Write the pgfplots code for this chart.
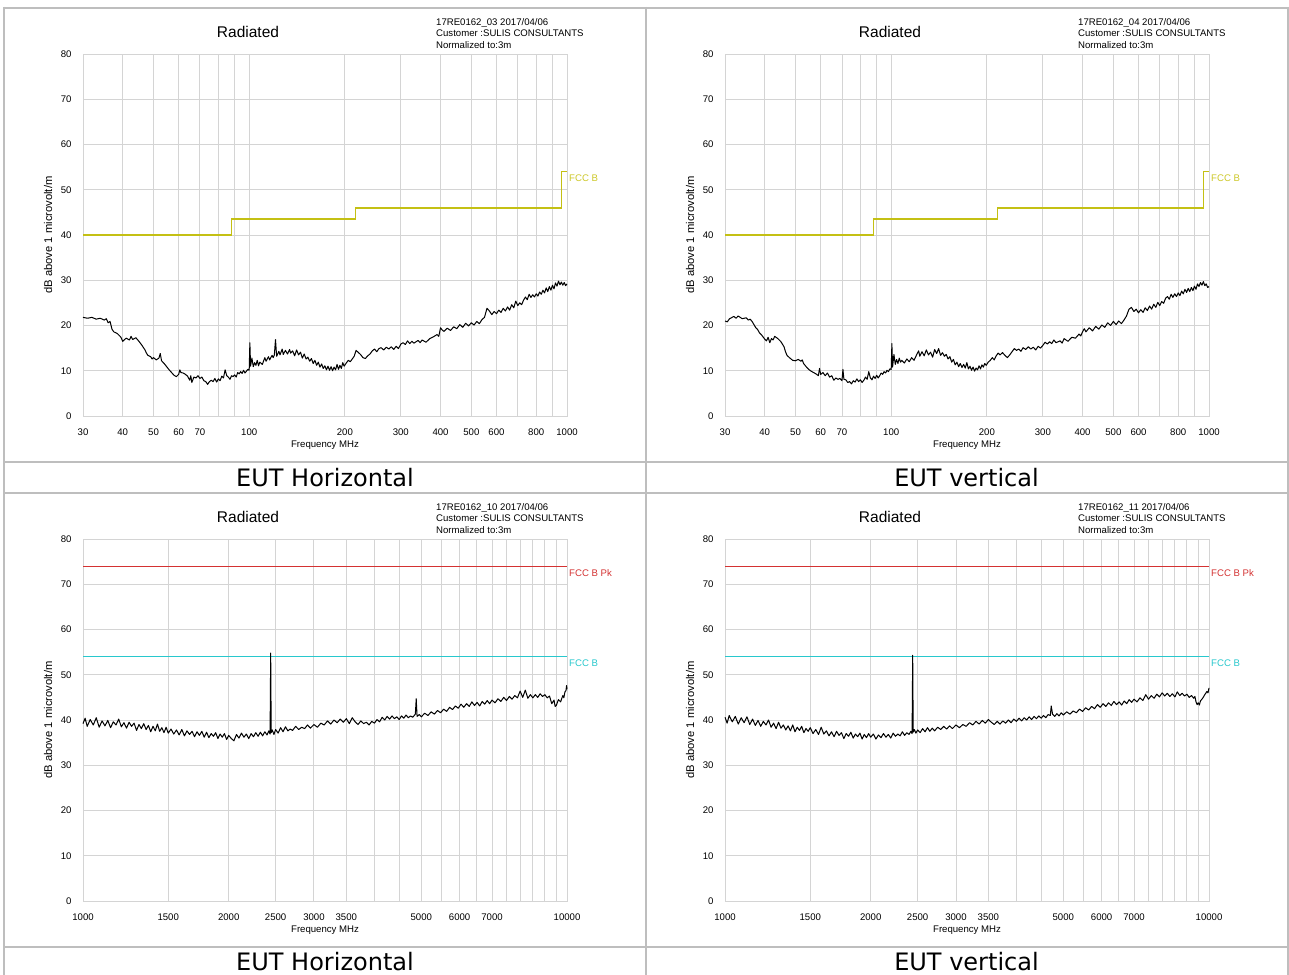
\documentclass[border=0pt]{standalone}
\usepackage{pgfplots}
\pgfplotsset{compat=1.18}
\usepackage{fontspec}
\setmainfont{Liberation Sans}
\newfontfamily\capfont{DejaVu Sans}
\definecolor{gridgray}{RGB}{212,212,212}
\definecolor{bordergray}{RGB}{190,190,190}
\definecolor{fccy}{RGB}{196,192,20}
\definecolor{fccyt}{RGB}{205,200,40}
\definecolor{fccr}{RGB}{212,50,50}
\definecolor{fccc}{RGB}{40,200,205}
\newcommand{\tkf}{\fontsize{9.6}{11}\selectfont}
\pgfplotsset{every axis/.append style={scale only axis, width=484pt, height=362pt, anchor=south west,
    xmode=log, ymin=0, ymax=80, ytick={0,10,20,30,40,50,60,70,80},
    yticklabels={0,10,20,30,40,50,60,70,80},
    xmajorgrids, ymajorgrids,
    major grid style={draw=gridgray, line width=0.9pt},
    axis line style={draw=gridgray, line width=0.9pt},
    major tick length=0pt, minor tick length=0pt,
    tick label style={font=\tkf},
    yticklabel style={xshift=-8pt},
    xticklabel style={yshift=-9pt},
    xlabel={Frequency MHz}, ylabel={dB above 1 microvolt/m},
    xlabel style={font=\tkf, at={(axis description cs:0.5,-0.0815)}, anchor=center},
    ylabel style={font=\fontsize{11.2}{13}\selectfont, at={(axis description cs:-0.0723,0.5)}, anchor=center},
    clip=false}}
\tikzset{
  trace/.style={black, line width=1pt, line join=round},
  limline/.style={line width=1.2pt, sharp plot},
  ylimline/.style={line width=1.7pt, sharp plot, line join=miter},
  limlab/.style={anchor=north west, inner sep=0pt, xshift=2pt, yshift=-3.2pt, font=\tkf}
}
\newcommand{\header}[3]{%
  \node[font=\fontsize{15.5}{17}\selectfont] at (#1+165,#2+942) {Radiated};
  \node[anchor=base west, font=\tkf, inner sep=0pt] at (#1+353,#2+948.6) {#3 2017/04/06};
  \node[anchor=base west, font=\tkf, inner sep=0pt] at (#1+353,#2+937.1) {Customer :SULIS CONSULTANTS};
  \node[anchor=base west, font=\tkf, inner sep=0pt] at (#1+353,#2+925.6) {Normalized to:3m};
}
\begin{document}
\begin{tikzpicture}
\begin{scope}[x=1pt,y=1pt]
\useasboundingbox (0,0) rectangle (1289,974);
\fill[white] (0,0) rectangle (1289,974);
\begin{scope}[draw=bordergray, line width=2pt]
\draw (4,966) -- (1287.5,966);
\draw (4,512) -- (1287.5,512);
\draw (4,481.3) -- (1287.5,481.3);
\draw (4,27.3) -- (1287.5,27.3);
\draw (4,967) -- (4,-10);
\draw (646,967) -- (646,-10);
\draw (1287.5,967) -- (1287.5,-10);
\end{scope}
\node[font=\capfont\fontsize{24}{28}\selectfont] at (325,496.5) {EUT Horizontal};
\node[font=\capfont\fontsize{24}{28}\selectfont] at (966.5,496.5) {EUT vertical};
\node[font=\capfont\fontsize{24}{28}\selectfont] at (325,12.5) {EUT Horizontal};
\node[font=\capfont\fontsize{24}{28}\selectfont] at (966.5,12.5) {EUT vertical};
\header{83}{0}{17RE0162\_03}
\header{725}{0}{17RE0162\_04}
\header{83}{-485}{17RE0162\_10}
\header{725}{-485}{17RE0162\_11}
\end{scope}

% ---------- top left ----------
\begin{axis}[at={(83pt,558pt)}, xmin=30, xmax=1000,
    xtick={30,40,50,60,70,80,90,100,200,300,400,500,600,700,800,900,1000},
    xticklabels={30,40,50,60,70,,,100,200,300,400,500,600,,800,,1000}]
\addplot[ylimline, draw=fccy] coordinates {(30,40)(88,40)(88,43.5)(216,43.5)(216,46)(960,46)(960,54)(1000,54)};
\node[limlab, text=fccyt] at (axis cs:1000,54) {FCC B};
\addplot[trace] coordinates {
(30,21.8)(31,21.6)(32,21.8)(33,21.4)(34,21.6)(35,21.2)(35.5,21.5)(36,20.6)(36.5,20.9)(37,19.2)(37.5,18.6)(38.5,18.2)(39.5,17.4)(40,16.5)(41,17.2)(42,16.8)(42.5,17.6)(43,16.9)(44,17.3)(45,16.5)(46,15.6)(47,14.6)(47.5,13.9)(48,13.4)(49,13.1)(49.5,12.6)(50,12.9)(51,12.4)(52,12.8)(52.5,13.8)(53,12.2)(54,11.6)(55,10.9)(56,10.2)(57,9.6)(58,9.0)(59,8.7)(60,9.2)(60.5,10.2)(61,9.6)(62,9.5)(63,9.2)(64,8.8)(65,7.9)(65.5,8.9)(66,7.4)(67,8.6)(68,8.4)(69,8.9)(70,8.3)(71,8.6)(72,7.8)(73,7.6)(74,7.0)(75,7.6)(76,7.9)(77,7.6)(78,8.3)(79,7.5)(80,8.2)(81,7.8)(82,8.8)(83,8.4)(84,10.2)(85,8.9)(86,8.6)(87,8.1)(88,8.9)(89,8.7)(90,9.1)(91,8.6)(92,9.6)(93,9.3)(94,9.8)(95,9.4)(96,10.1)(97,9.5)(98,9.9)(99,10.3)(100,10.1)(100.5,16.2)(101,11.0)(102,12.8)(103,10.9)(104,11.8)(105,11.2)(106,12.3)(107,11.1)(108,11.9)(110,11.4)(112,12.9)(113,12.1)(115,13.1)(116,12.4)(118,13.4)(119,12.9)(120,13.5)(121,16.9)(122,13.2)(124,14.3)(125,13.5)(127,14.8)(128,13.6)(130,14.5)(132,13.7)(134,14.7)(135,13.9)(137,14.4)(139,13.3)(141,14.6)(143,13.5)(145,14.1)(147,12.8)(149,13.7)(151,12.6)(153,13.0)(155,12.1)(157,12.7)(159,11.6)(161,12.3)(163,11.2)(165,11.9)(167,10.8)(169,11.5)(171,10.5)(173,11.1)(175,10.2)(177,11.0)(179,10.1)(181,10.9)(183,10.0)(185,10.8)(187,10.2)(189,11.4)(191,10.3)(193,11.2)(195,10.5)(197,11.8)(199,11.0)(202,11.7)(205,12.3)(208,12.0)(211,12.6)(214,13.2)(217,14.5)(220,14.1)(224,13.6)(228,12.9)(232,12.7)(236,13.3)(240,13.7)(244,14.4)(248,14.8)(252,14.2)(256,14.9)(260,15.1)(265,14.6)(270,15.2)(275,14.8)(280,15.3)(285,14.7)(290,15.4)(295,14.9)(300,15.9)(305,16.2)(310,15.8)(315,16.6)(320,16.0)(325,16.5)(330,16.1)(340,16.7)(345,16.2)(350,16.8)(360,16.3)(370,17.1)(380,17.5)(390,18.0)(395,17.6)(400,19.5)(405,19.0)(410,18.7)(420,19.4)(430,18.9)(440,19.7)(450,19.3)(460,20.2)(470,19.6)(480,20.5)(490,19.9)(500,20.6)(510,20.1)(520,20.9)(530,20.4)(540,21.3)(550,21.8)(560,23.8)(570,23.2)(580,22.4)(590,23.1)(600,22.6)(610,23.4)(620,22.9)(630,23.8)(640,23.2)(650,24.1)(660,23.4)(670,24.6)(680,23.9)(690,25.4)(700,24.4)(710,25.0)(720,24.6)(730,25.6)(740,26.3)(750,25.7)(760,26.9)(770,26.2)(780,26.8)(790,26.3)(800,27.0)(810,26.5)(820,27.4)(830,26.9)(840,27.8)(850,27.2)(860,28.3)(870,27.5)(880,28.6)(890,27.8)(900,28.9)(910,28.1)(920,29.4)(930,28.7)(940,29.8)(950,29.0)(960,29.6)(970,28.9)(980,29.5)(990,28.8)(1000,29.2)};
\end{axis}

% ---------- top right ----------
\begin{axis}[at={(725pt,558pt)}, xmin=30, xmax=1000,
    xtick={30,40,50,60,70,80,90,100,200,300,400,500,600,700,800,900,1000},
    xticklabels={30,40,50,60,70,,,100,200,300,400,500,600,,800,,1000}]
\addplot[ylimline, draw=fccy] coordinates {(30,40)(88,40)(88,43.5)(216,43.5)(216,46)(960,46)(960,54)(1000,54)};
\node[limlab, text=fccyt] at (axis cs:1000,54) {FCC B};
\addplot[trace] coordinates {
(30,21.0)(30.5,20.8)(31,21.5)(32,22.0)(32.5,21.6)(33,22.1)(34,21.5)(35,21.7)(35.5,21.2)(36,21.4)(36.5,20.9)(37,20.2)(37.5,19.5)(38,19.1)(38.5,18.4)(39,18.0)(39.5,17.5)(40,17.0)(40.5,16.6)(41,17.4)(41.5,16.2)(42,17.1)(42.5,16.8)(43,17.6)(44,17.1)(45,16.4)(46,15.3)(46.5,14.2)(47,13.4)(48,12.8)(49,12.3)(50,12.2)(51,12.5)(52,12.1)(52.5,12.4)(53,11.6)(54,10.9)(55,10.3)(56,9.9)(57,9.6)(58,9.3)(59,8.9)(59.5,10.5)(60,9.2)(61,9.6)(62,8.9)(63,9.5)(64,8.6)(65,8.9)(66,7.9)(67,8.4)(68,8.1)(69,8.3)(70,7.8)(70.5,10.3)(71,8.1)(72,8.0)(73,7.4)(74,7.6)(75,7.1)(76,7.8)(77,7.5)(78,8.2)(79,7.6)(80,8.0)(81,7.4)(82,7.9)(83,8.6)(84,8.1)(85,9.8)(86,8.4)(87,8.0)(88,8.8)(89,8.3)(90,9.0)(91,8.4)(92,8.9)(93,9.5)(94,9.2)(95,9.8)(96,9.5)(97,10.1)(98,9.8)(99,10.4)(100,10.3)(100.5,16.0)(101,10.8)(102,13.6)(103,11.4)(104,12.5)(105,11.6)(106,12.8)(107,11.9)(108,12.3)(110,11.7)(112,12.6)(114,12.0)(116,12.9)(118,12.3)(120,13.4)(122,14.4)(123,13.2)(125,14.2)(127,13.3)(129,14.6)(131,13.5)(133,14.1)(135,13.0)(137,14.7)(139,13.8)(141,14.9)(143,13.4)(145,14.0)(147,13.2)(149,13.6)(151,12.6)(153,13.1)(155,11.9)(157,12.5)(159,11.3)(161,11.9)(163,10.9)(165,11.6)(167,10.7)(169,11.4)(171,10.6)(173,11.8)(175,10.4)(177,11.0)(179,10.1)(181,10.8)(183,9.9)(185,10.6)(187,10.2)(189,11.1)(191,10.4)(193,11.3)(195,10.8)(197,11.6)(199,11.2)(202,11.9)(205,12.3)(208,12.9)(211,12.4)(214,13.3)(217,13.9)(220,13.5)(224,14.0)(228,13.4)(232,12.9)(236,13.5)(240,14.2)(244,14.9)(248,14.5)(252,14.8)(256,14.3)(260,15.1)(265,14.7)(270,15.3)(275,14.8)(280,15.2)(285,14.6)(290,15.4)(295,15.0)(300,15.6)(305,16.3)(310,15.9)(315,16.4)(320,16.0)(325,16.8)(330,16.2)(340,16.6)(345,16.1)(350,17.1)(360,16.5)(370,17.4)(380,17.2)(390,18.1)(395,17.7)(400,18.6)(405,19.3)(410,18.6)(420,19.5)(430,18.8)(440,19.8)(450,19.2)(460,20.1)(470,19.6)(480,20.6)(490,20.0)(500,20.9)(510,20.2)(520,21.0)(530,20.4)(540,21.2)(550,22.1)(560,23.6)(570,24.0)(580,23.1)(590,23.6)(600,22.8)(610,23.5)(620,22.9)(630,23.9)(640,23.3)(650,24.3)(660,23.6)(670,24.7)(680,24.0)(690,25.1)(700,24.4)(710,25.3)(720,24.9)(730,26.0)(740,26.4)(750,25.8)(760,26.9)(770,26.2)(780,27.0)(790,26.4)(800,27.2)(810,26.6)(820,27.6)(830,27.0)(840,28.0)(850,27.3)(860,28.2)(870,27.5)(880,28.4)(890,27.7)(900,28.7)(910,28.0)(920,29.2)(930,28.6)(940,29.5)(950,28.9)(960,29.7)(970,28.8)(980,29.2)(990,28.4)(1000,28.6)};
\end{axis}

% ---------- bottom left ----------
\begin{axis}[at={(83pt,73pt)}, xmin=1000, xmax=10000,
    xtick={1000,1500,2000,2500,3000,3500,4000,4500,5000,5500,6000,6500,7000,7500,8000,8500,9000,9500,10000},
    xticklabels={1000,1500,2000,2500,3000,3500,,,5000,,6000,,7000,,,,,,10000}]
\addplot[limline, draw=fccr] coordinates {(1000,74)(10000,74)};
\node[limlab, text=fccr] at (axis cs:10000,74) {FCC B Pk};
\addplot[limline, draw=fccc] coordinates {(1000,54)(10000,54)};
\node[limlab, text=fccc] at (axis cs:10000,54) {FCC B};
\addplot[trace] coordinates {
(1000,39.2)(1010,40.4)(1020,38.6)(1035,40.1)(1050,38.9)(1065,40.5)(1080,38.4)(1095,39.8)(1110,38.7)(1125,39.9)(1140,38.3)(1155,39.6)(1170,38.9)(1185,40.2)(1200,38.5)(1215,39.4)(1230,38.2)(1245,39.5)(1260,38.6)(1275,39.3)(1290,37.7)(1305,39.0)(1320,38.1)(1335,39.2)(1350,37.9)(1365,38.8)(1380,37.4)(1395,38.6)(1410,37.6)(1425,39.1)(1440,37.5)(1455,38.3)(1470,37.2)(1485,38.4)(1500,37.1)(1520,38.0)(1540,36.9)(1560,37.8)(1580,36.7)(1600,37.9)(1620,36.5)(1640,37.6)(1660,36.8)(1680,37.5)(1700,36.3)(1720,37.4)(1740,36.6)(1760,37.5)(1780,36.2)(1800,37.3)(1820,36.1)(1840,37.0)(1860,36.4)(1880,37.2)(1900,35.9)(1920,36.9)(1940,36.2)(1960,37.0)(1980,35.7)(2000,36.6)(2025,35.9)(2050,35.4)(2075,36.8)(2100,36.0)(2125,37.1)(2150,36.2)(2175,36.9)(2200,35.9)(2225,37.0)(2250,36.3)(2275,37.2)(2300,36.4)(2325,37.3)(2350,36.5)(2375,37.4)(2400,36.7)(2420,37.6)(2435,36.9)(2442,54.8)(2448,37.2)(2460,37.8)(2480,36.8)(2500,37.9)(2530,37.1)(2560,38.3)(2590,37.4)(2620,38.5)(2650,37.6)(2680,38.0)(2710,37.7)(2750,38.6)(2790,37.9)(2830,38.4)(2870,38.1)(2910,38.9)(2950,38.2)(3000,39.0)(3050,38.4)(3100,39.3)(3150,38.9)(3200,39.8)(3250,39.1)(3300,40.0)(3350,39.4)(3400,40.2)(3450,39.5)(3500,40.3)(3550,39.2)(3600,40.5)(3650,39.6)(3700,39.0)(3750,39.8)(3800,39.2)(3850,39.5)(3900,38.9)(3950,39.7)(4000,39.3)(4050,40.1)(4100,39.6)(4150,40.6)(4200,40.0)(4250,40.8)(4300,40.2)(4350,40.9)(4400,40.3)(4450,40.7)(4500,40.1)(4550,40.9)(4600,40.4)(4650,41.1)(4700,40.5)(4750,40.9)(4800,40.6)(4860,41.3)(4880,44.7)(4900,40.8)(4950,41.2)(5000,40.7)(5080,41.5)(5160,41.0)(5240,41.8)(5320,41.3)(5400,42.1)(5480,41.6)(5560,42.4)(5640,41.9)(5720,42.8)(5800,42.3)(5880,43.1)(5960,42.6)(6040,43.5)(6120,42.8)(6200,43.6)(6280,43.0)(6360,44.0)(6440,43.2)(6520,43.9)(6600,43.1)(6680,44.1)(6760,43.5)(6840,44.3)(6920,43.6)(7000,44.4)(7100,43.8)(7200,44.7)(7300,44.1)(7400,45.0)(7500,44.3)(7600,45.2)(7700,44.6)(7800,45.4)(7900,44.9)(8000,46.4)(8100,45.0)(8200,46.6)(8300,44.8)(8400,45.6)(8500,44.9)(8600,45.6)(8700,45.0)(8800,45.8)(8900,45.2)(9000,45.6)(9100,44.9)(9200,45.3)(9300,43.6)(9400,44.4)(9450,43.0)(9500,43.2)(9600,44.5)(9700,44.0)(9800,45.4)(9850,44.9)(9900,46.2)(9950,46.5)(9980,47.6)(10000,46.8)};
\end{axis}

% ---------- bottom right ----------
\begin{axis}[at={(725pt,73pt)}, xmin=1000, xmax=10000,
    xtick={1000,1500,2000,2500,3000,3500,4000,4500,5000,5500,6000,6500,7000,7500,8000,8500,9000,9500,10000},
    xticklabels={1000,1500,2000,2500,3000,3500,,,5000,,6000,,7000,,,,,,10000}]
\addplot[limline, draw=fccr] coordinates {(1000,74)(10000,74)};
\node[limlab, text=fccr] at (axis cs:10000,74) {FCC B Pk};
\addplot[limline, draw=fccc] coordinates {(1000,54)(10000,54)};
\node[limlab, text=fccc] at (axis cs:10000,54) {FCC B};
\addplot[trace] coordinates {
(1000,40.6)(1010,39.3)(1020,41.0)(1035,39.6)(1050,40.8)(1065,39.1)(1080,40.5)(1095,39.4)(1110,40.7)(1125,39.0)(1140,40.2)(1155,38.8)(1170,39.9)(1185,38.6)(1200,39.7)(1215,38.9)(1230,40.0)(1245,38.4)(1260,39.3)(1275,38.1)(1290,39.5)(1305,38.2)(1320,38.9)(1335,37.8)(1350,38.7)(1365,37.6)(1380,38.9)(1395,37.4)(1410,38.4)(1425,37.7)(1440,38.6)(1455,37.2)(1470,38.1)(1485,37.5)(1500,38.3)(1520,37.0)(1540,37.9)(1560,36.8)(1580,38.4)(1600,36.9)(1620,37.6)(1640,36.5)(1660,37.4)(1680,36.3)(1700,37.5)(1720,36.6)(1740,37.2)(1760,35.9)(1780,37.0)(1800,36.4)(1820,37.3)(1840,36.0)(1860,36.9)(1880,36.3)(1900,37.1)(1920,35.8)(1940,36.8)(1960,36.1)(1980,37.0)(2000,36.2)(2025,36.9)(2050,35.8)(2075,36.7)(2100,36.1)(2125,37.0)(2150,36.2)(2175,36.8)(2200,36.0)(2225,37.1)(2250,36.4)(2275,36.9)(2300,36.5)(2325,37.4)(2350,36.6)(2375,37.2)(2400,36.8)(2420,37.5)(2435,37.0)(2442,54.3)(2448,37.3)(2460,37.9)(2480,37.1)(2500,37.8)(2530,37.2)(2560,38.1)(2590,37.4)(2620,38.3)(2650,37.5)(2680,38.2)(2710,37.6)(2750,38.4)(2790,37.9)(2830,38.6)(2870,38.0)(2910,38.7)(2950,38.1)(3000,38.9)(3050,38.3)(3100,39.0)(3150,38.6)(3200,39.4)(3250,38.9)(3300,39.7)(3350,39.1)(3400,39.9)(3450,39.3)(3500,40.1)(3550,39.5)(3600,39.0)(3650,39.7)(3700,39.1)(3750,39.8)(3800,39.3)(3850,40.0)(3900,39.4)(3950,40.2)(4000,39.7)(4050,40.4)(4100,39.8)(4150,40.5)(4200,40.0)(4250,40.7)(4300,40.1)(4350,40.8)(4400,40.3)(4450,40.9)(4500,40.4)(4550,41.0)(4600,40.5)(4650,41.2)(4700,41.0)(4720,43.1)(4750,41.3)(4800,40.8)(4850,41.4)(4900,40.9)(4950,41.6)(5000,41.1)(5080,41.8)(5160,41.3)(5240,42.0)(5320,41.6)(5400,42.4)(5480,41.9)(5560,42.7)(5640,42.2)(5720,43.0)(5800,42.5)(5880,43.4)(5960,42.8)(6040,43.6)(6120,43.0)(6200,43.8)(6280,43.2)(6360,44.1)(6440,43.4)(6520,44.0)(6600,43.3)(6680,44.2)(6760,43.6)(6840,44.5)(6920,43.9)(7000,44.6)(7100,44.0)(7200,44.9)(7300,44.3)(7400,45.6)(7500,44.6)(7600,45.4)(7700,44.8)(7800,45.7)(7900,45.1)(8000,46.0)(8100,45.3)(8200,45.9)(8300,45.2)(8400,45.8)(8500,45.1)(8600,46.2)(8700,45.4)(8800,45.9)(8900,45.3)(9000,45.7)(9100,45.0)(9200,45.4)(9300,44.8)(9350,45.2)(9400,44.0)(9450,43.4)(9500,43.8)(9550,43.3)(9600,44.2)(9700,44.8)(9800,45.6)(9900,46.3)(9950,46.0)(10000,47.1)};
\end{axis}
\end{tikzpicture}
\end{document}
